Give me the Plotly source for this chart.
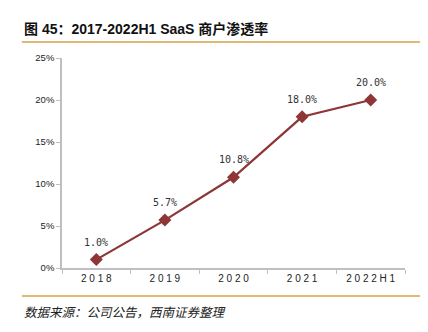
import plotly.graph_objects as go

# Merchant penetration of SaaS, 2018 to 2022H1
categories = ["2018", "2019", "2020", "2021", "2022H1"]
penetration = [1.0, 5.7, 10.8, 18.0, 20.0]
tick_labels = [" ".join(c) for c in categories]
y_ticks = [0, 5, 10, 15, 20, 25]

title_text = "图 45：2017-2022H1 SaaS 商户渗透率"
source_text = "数据来源：公司公告，西南证券整理"

line_color = "#8E3636"
rule_color = "#D9A04A"
axis_color = "#BFBFBF"

fig = go.Figure()
fig.add_trace(go.Scatter(
    x=categories,
    y=penetration,
    mode="lines+markers",
    line=dict(color=line_color, width=2.2),
    marker=dict(symbol="diamond", size=10, color=line_color),
    cliponaxis=False,
    showlegend=False,
))

# value labels sit a little above each marker (category axis -> index positions)
value_labels = [
    dict(x=i, y=v, text=f"{v:.1f}%", xref="x", yref="y", showarrow=False,
         yanchor="bottom", yshift=10,
         font=dict(family="DejaVu Sans Mono", size=10, color="#333333"))
    for i, v in enumerate(penetration)
]

fig.update_layout(
    width=428, height=332,
    margin=dict(l=62, r=23, t=58, b=64),
    plot_bgcolor="white", paper_bgcolor="white",
    font=dict(family="Liberation Sans", size=10, color="#222222"),
    xaxis=dict(
        type="category",
        tickmode="array", tickvals=categories, ticktext=tick_labels,
        tickson="boundaries", ticks="outside", ticklen=4, tickcolor=axis_color,
        showline=True, linecolor=axis_color, linewidth=1.5,
        showgrid=False, tickfont=dict(size=10, color="#222222"),
        range=[-0.5, 4.5],
    ),
    yaxis=dict(
        range=[0, 25], tickmode="array", tickvals=y_ticks,
        ticktext=[f"{v}%" for v in y_ticks],
        ticks="outside", ticklen=4, tickcolor=axis_color,
        showline=True, linecolor=axis_color, linewidth=1.5,
        showgrid=False, zeroline=False, tickfont=dict(size=9.5, color="#222222"),
    ),
    shapes=[
        dict(type="line", xref="paper", yref="paper",
             x0=-0.117, x1=1.044, y0=1.076, y1=1.076,
             line=dict(color=rule_color, width=1.5)),
        dict(type="line", xref="paper", yref="paper",
             x0=-0.117, x1=1.044, y0=-0.133, y1=-0.133,
             line=dict(color=rule_color, width=1.5)),
    ],
    annotations=value_labels + [
        dict(text=f"<b>{title_text}</b>", xref="paper", yref="paper",
             x=-0.117, y=1.14, xanchor="left", yanchor="middle", showarrow=False,
             font=dict(family="Liberation Sans, Noto Sans CJK SC", size=14, color="#111111")),
        dict(text=f"<i>{source_text}</i>", xref="paper", yref="paper",
             x=-0.117, y=-0.205, xanchor="left", yanchor="middle", showarrow=False,
             font=dict(family="Noto Sans CJK SC", size=12.5, color="#222222")),
    ],
)

fig.write_html("out.html")
